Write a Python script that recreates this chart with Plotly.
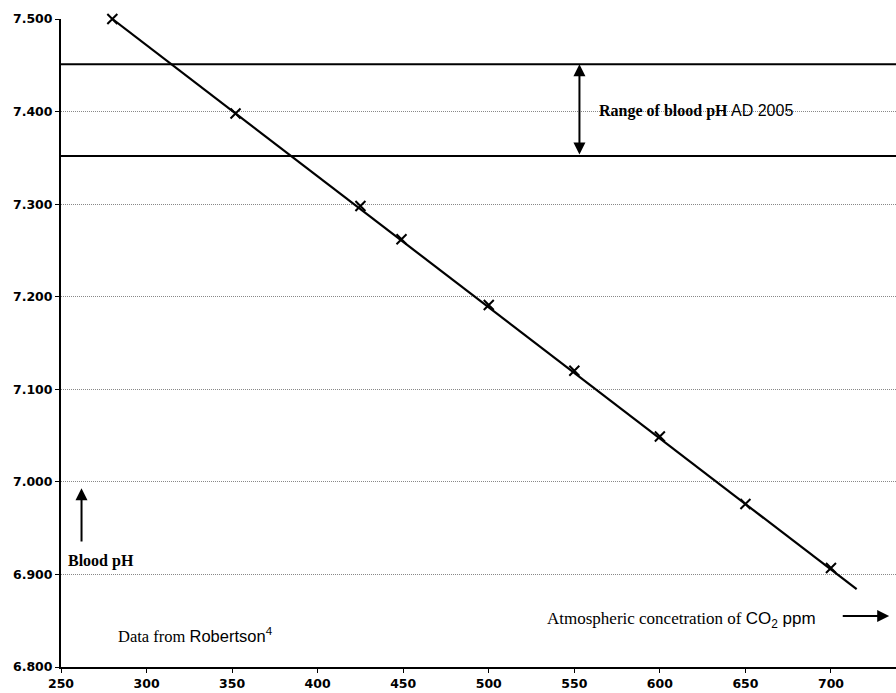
import plotly.graph_objects as go

# data points (Atmospheric CO2 ppm, blood pH)
co2 = [280, 352, 425, 449, 500, 550, 600, 650, 700]
ph = [7.500, 7.398, 7.298, 7.262, 7.191, 7.120, 7.049, 6.976, 6.907]

# trend line end points
trend_x = [280, 715]
trend_y = [7.500, 6.884]

# range of blood pH AD 2005
range_low = 7.352
range_high = 7.451

x_ticks = [250, 300, 350, 400, 450, 500, 550, 600, 650, 700]
y_ticks = [6.8, 6.9, 7.0, 7.1, 7.2, 7.3, 7.4, 7.5]
y_tick_labels = ["6.800", "6.900", "7.000", "7.100", "7.200", "7.300", "7.400", "7.500"]

X_MIN, X_MAX = 250, 738
Y_MIN, Y_MAX = 6.8, 7.5

SERIF = "Liberation Serif"
SANS = "Liberation Sans"

fig = go.Figure()

fig.add_trace(go.Scatter(x=trend_x, y=trend_y, mode="lines",
                         line=dict(color="black", width=2.2), showlegend=False,
                         hoverinfo="skip", cliponaxis=False))
fig.add_trace(go.Scatter(x=co2, y=ph, mode="markers", cliponaxis=False,
                         marker=dict(symbol="x-thin", size=10,
                                     line=dict(color="black", width=2)),
                         showlegend=False))

for v in (range_low, range_high):
    fig.add_shape(type="line", xref="x", yref="y", x0=X_MIN, x1=X_MAX,
                  y0=v, y1=v, line=dict(color="black", width=2))

# double-headed arrow for the range
fig.add_annotation(x=553, y=range_high, ax=553, ay=range_low,
                   xref="x", yref="y", axref="x", ayref="y",
                   showarrow=True, arrowhead=2, arrowsize=1.2, arrowwidth=2,
                   arrowside="end+start", arrowcolor="black", text="",
                   standoff=0, startstandoff=0)

fig.add_annotation(x=563, y=7.401, xref="x", yref="y", xanchor="left",
                   showarrow=False,
                   text=(f"<span style='font-family:{SERIF};font-weight:bold'>Range of blood pH</span>"
                         f"<span style='font-family:{SANS}'> AD 2005</span>"),
                   font=dict(size=16, color="black", family=SANS))

# up arrow on the left
fig.add_annotation(x=262, y=6.993, ax=262, ay=6.934,
                   xref="x", yref="y", axref="x", ayref="y",
                   showarrow=True, arrowhead=2, arrowsize=1.2, arrowwidth=2,
                   arrowcolor="black", text="", standoff=0)

fig.add_annotation(x=253, y=6.903, xref="x", yref="y", xanchor="left",
                   yanchor="bottom", showarrow=False,
                   text="<b>Blood pH</b>",
                   font=dict(size=16, color="black", family=SERIF))

fig.add_annotation(x=282, y=6.834, xref="x", yref="y", xanchor="left",
                   showarrow=False,
                   text=(f"<span style='font-family:{SERIF}'>Data from </span>"
                         f"<span style='font-family:{SANS}'>Robertson<sup>4</sup></span>"),
                   font=dict(size=16.5, color="black", family=SERIF))

fig.add_annotation(x=533, y=6.851, xref="x", yref="y", xanchor="left",
                   showarrow=False,
                   text=(f"<span style='font-family:{SERIF}'>Atmospheric concetration of </span>"
                         f"<span style='font-family:{SANS}'>CO<sub>2</sub> ppm</span>"),
                   font=dict(size=17, color="black", family=SERIF))

# right arrow
fig.add_annotation(x=734, y=6.855, ax=706, ay=6.855,
                   xref="x", yref="y", axref="x", ayref="y",
                   showarrow=True, arrowhead=2, arrowsize=1.2, arrowwidth=2,
                   arrowcolor="black", text="", standoff=0)

fig.update_layout(
    width=896, height=693,
    margin=dict(l=61, r=0, t=19, b=26),
    plot_bgcolor="white", paper_bgcolor="white",
    showlegend=False,
    xaxis=dict(range=[X_MIN, X_MAX], tickvals=x_ticks,
               showgrid=False, zeroline=False,
               showline=True, linecolor="black", linewidth=2,
               ticks="outside", ticklen=4, tickwidth=1, tickcolor="black",
               tickfont=dict(family="DejaVu Sans", size=12.5, color="black", weight="bold")),
    yaxis=dict(range=[Y_MIN, Y_MAX], tickvals=y_ticks, ticktext=y_tick_labels,
               showgrid=True, gridcolor="#888888", griddash="1px,1px", gridwidth=1,
               zeroline=False,
               showline=True, linecolor="black", linewidth=2,
               ticks="outside", ticklen=4, tickwidth=1, tickcolor="black",
               tickfont=dict(family="DejaVu Sans", size=12.5, color="black", weight="bold")),
)

fig.write_html("out.html", config={"displayModeBar": False},
               post_script="document.body.style.margin='0';")
